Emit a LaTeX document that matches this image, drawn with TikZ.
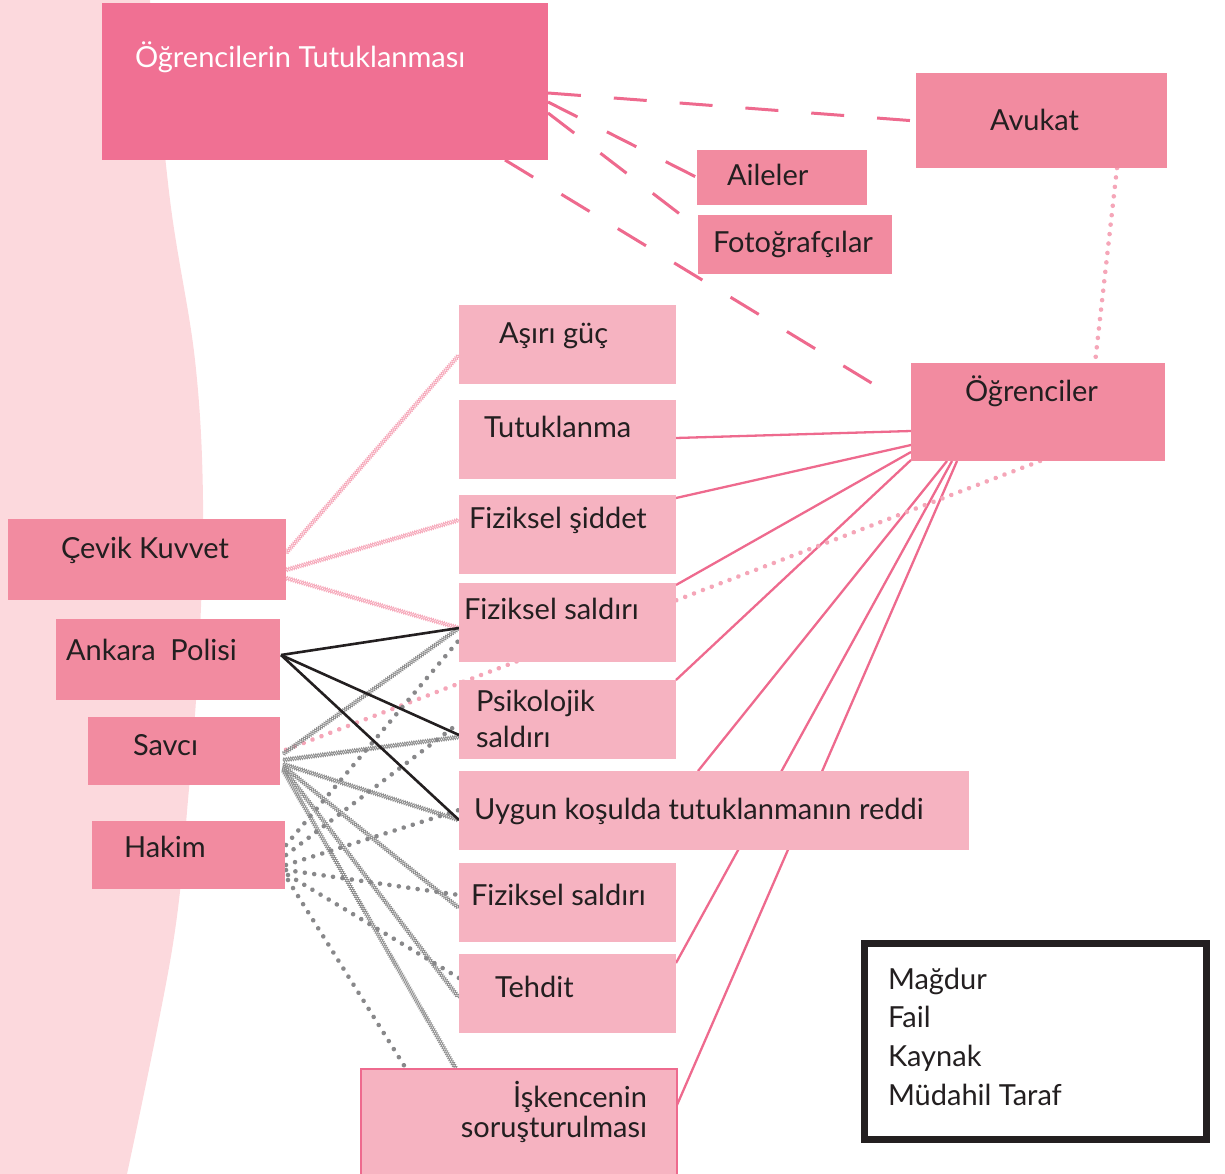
\documentclass[tikz,border=0pt]{standalone}
\usepackage{fontspec}
\setmainfont{Lato}
\usetikzlibrary{calc,decorations.pathmorphing,decorations.markings}
\pgfdeclarelayer{back}
\pgfsetlayers{back,main}
\definecolor{bgpink}{HTML}{FCD9DD}
\definecolor{deeppink}{HTML}{F07093}
\definecolor{midpink}{HTML}{F28BA0}
\definecolor{lightpink}{HTML}{F6B3C1}
\definecolor{linepink}{HTML}{EE6A8E}
\definecolor{dotpink}{HTML}{F5A6B8}
\definecolor{zigpink}{HTML}{F6A9BB}
\definecolor{ink}{HTML}{231F20}
\definecolor{graydot}{HTML}{88888A}
\definecolor{grayzig}{HTML}{8E8E8E}
\newcommand\lblfont{\fontsize{29}{34}\selectfont}
\begin{document}
\begin{tikzpicture}[x=1pt,y=-1pt,
  box/.style={draw=none,inner sep=0pt,outer sep=0pt,anchor=north west},
  deepbox/.style={box,fill=deeppink},
  midbox/.style={box,fill=midpink},
  lightbox/.style={box,fill=lightpink},
  lbl/.style={inner sep=0pt,outer sep=0pt,anchor=base west,text=ink,font=\lblfont},
  rlbl/.style={lbl,anchor=base east},
  dashlink/.style={draw=linepink,line width=3pt,dash pattern=on 33pt off 33pt},
  solidlink/.style={draw=linepink,line width=2.3pt},
  blacklink/.style={draw=ink,line width=2.6pt},
  dotlink/.style={draw=none,postaction={decorate,decoration={markings,
      mark=between positions 0 and 1 step 9.5pt with {\fill[#1] (0pt,0pt) circle[radius=2.3pt];}}}},
  ziglink/.style={draw=none,
    postaction={draw=#1,line width=0.8pt,decorate,decoration={zigzag,segment length=4.6pt,amplitude=2pt}},
    postaction={draw=#1,line width=0.8pt,decorate,decoration={zigzag,segment length=4.6pt,amplitude=2pt,mirror}}},
]
\useasboundingbox (0,0) rectangle (1225,1174);
\clip (0,0) rectangle (1225,1174);

% boxes
\node[deepbox,minimum width=446pt,minimum height=157pt] (title) at (102,3) {};
\node[midbox,minimum width=251pt,minimum height=95pt] (avukat) at (916,73) {};
\node[midbox,minimum width=170pt,minimum height=55pt] (aileler) at (697,150) {};
\node[midbox,minimum width=194pt,minimum height=59pt] (foto) at (698,215) {};
\node[midbox,minimum width=254pt,minimum height=98pt] (ogr) at (911,363) {};
\node[lightbox,minimum width=217pt,minimum height=79pt] (asiri) at (459,305) {};
\node[lightbox,minimum width=217pt,minimum height=79pt] (tutuk) at (459,400) {};
\node[lightbox,minimum width=217pt,minimum height=79pt] (siddet) at (459,495) {};
\node[lightbox,minimum width=217pt,minimum height=79pt] (saldiri) at (459,583) {};
\node[lightbox,minimum width=217pt,minimum height=79pt] (psiko) at (459,680) {};
\node[lightbox,minimum width=510pt,minimum height=79pt] (uygun) at (459,771) {};
\node[lightbox,minimum width=217pt,minimum height=79pt] (saldiri2) at (459,863) {};
\node[lightbox,minimum width=217pt,minimum height=79pt] (tehdit) at (459,954) {};
\node[lightbox,draw=linepink,line width=2pt,minimum width=316pt,minimum height=112pt] (iskence) at (361,1069) {};
\node[midbox,minimum width=278pt,minimum height=81pt] (cevik) at (8,519) {};
\node[midbox,minimum width=224pt,minimum height=81pt] (ankara) at (56,619) {};
\node[midbox,minimum width=192pt,minimum height=68pt] (savci) at (88,717) {};
\node[midbox,minimum width=193pt,minimum height=68pt] (hakim) at (92,821) {};
\node[box,draw=ink,line width=7pt,fill=white,minimum width=342pt,minimum height=196pt] (legend) at (864.5,943.5) {};

% texts
\node[lbl,text=white] (ttitle) at (135,68) {Öğrencilerin Tutuklanması};
\node[lbl] (tavukat) at (990,131) {Avukat};
\node[lbl] (taileler) at (727,186) {Aileler};
\node[lbl] (tfoto) at (713,253) {Fotoğrafçılar};
\node[lbl] (togr) at (965,401) {Öğrenciler};
\node[lbl] (tasiri) at (499,343) {Aşırı güç};
\node[lbl] (ttutuk) at (484,437) {Tutuklanma};
\node[lbl] (tsiddet) at (469,528) {Fiziksel şiddet};
\node[lbl] (tsaldiri) at (464,619) {Fiziksel saldırı};
\node[lbl] (tpsiko1) at (476,711) {Psikolojik};
\node[lbl] (tpsiko2) at (476,747) {saldırı};
\node[lbl] (tuygun) at (474,819) {Uygun koşulda tutuklanmanın reddi};
\node[lbl] (tsaldiri2) at (471,905) {Fiziksel saldırı};
\node[lbl] (ttehdit) at (495,997) {Tehdit};
\node[rlbl] (tisk1) at (647,1107) {İşkencenin};
\node[rlbl] (tisk2) at (647,1137) {soruşturulması};
\node[lbl] (tcevik) at (61,558) {Çevik Kuvvet};
\node[lbl] (tankara) at (66,660) {Ankara\ \ Polisi};
\node[lbl] (tsavci) at (133,755) {Savcı};
\node[lbl] (thakim) at (124,857) {Hakim};
\node[lbl] (lg1) at (888,989) {Mağdur};
\node[lbl] (lg2) at (888,1027) {Fail};
\node[lbl] (lg3) at (888,1066) {Kaynak};
\node[lbl] (lg4) at (888,1105) {Müdahil Taraf};

\begin{pgfonlayer}{back}
\fill[bgpink] (0,0) -- plot[smooth,tension=0.6] coordinates {(150,0) (170,200) (195,360) (203,500) (199,650) (188,800) (172,950) (127,1174)} -- (0,1174) -- cycle;

% dashed from title
\draw[dashlink] ($(title.north east)+(0,90)$) -- ($(avukat.north west)+(0,48)$);
\draw[dashlink] ($(title.north east)+(0,99)$) -- (aileler.west);
\draw[dashlink] ($(title.north east)+(0,110)$) -- ($(foto.north west)+(0,13)$);
\draw[dashlink,shorten >=22pt] ($(title.south east)+(-43,0)$) -- ($(ogr.north west)+(0,44)$);

% dotted avukat - ogrenciler
\draw[dotlink=dotpink] ($(avukat.south west)+(201,0)$) -- ($(ogr.north west)+(184,0)$);

% solid pink from ogrenciler
\draw[solidlink] ($(ogr.north west)+(0,68)$) -- ($(tutuk.north east)+(0,38)$);
\draw[solidlink] ($(ogr.north west)+(0,82)$) -- ($(siddet.north east)+(0,3)$);
\draw[solidlink] ($(ogr.north west)+(0,89)$) -- ($(saldiri.north east)+(0,2)$);
\draw[solidlink] ($(ogr.south west)+(0,-1)$) -- (psiko.north east);
\draw[solidlink] ($(ogr.south west)+(36,0)$) -- ($(uygun.north west)+(239,0)$);
\draw[solidlink] ($(ogr.south west)+(41,0)$) -- ($(tehdit.north east)+(0,9)$);
\draw[solidlink] ($(ogr.south west)+(46,0)$) -- ($(iskence.north east)+(0,36)$);

% pink dotted ogrenciler - savci
\draw[dotlink=dotpink] ($(ogr.south west)+(129,0)$) -- ($(savci.north east)+(0,35)$);

% pink zigzag from cevik kuvvet
\draw[ziglink=zigpink] ($(cevik.north east)+(0,34)$) -- ($(asiri.north west)+(0,50)$);
\draw[ziglink=zigpink] ($(cevik.north east)+(0,51)$) -- ($(siddet.north west)+(0,25)$);
\draw[ziglink=zigpink] ($(cevik.north east)+(0,59)$) -- ($(saldiri.north west)+(0,45)$);

% gray zigzag from savci
\draw[ziglink=grayzig] ($(savci.north east)+(3,37)$) -- ($(saldiri.north west)+(0,45)$);
\draw[ziglink=grayzig] ($(savci.north east)+(3,43)$) -- ($(psiko.north west)+(0,57)$);
\draw[ziglink=grayzig] ($(savci.north east)+(3,47)$) -- ($(uygun.north west)+(0,49)$);
\draw[ziglink=grayzig] ($(savci.north east)+(3,49)$) -- ($(saldiri2.north west)+(0,45)$);
\draw[ziglink=grayzig] ($(savci.north east)+(3,51)$) -- ($(tehdit.north west)+(0,44)$);
\draw[ziglink=grayzig] ($(savci.north east)+(3,53)$) -- ($(iskence.north west)+(95,0)$);

% gray dotted from hakim
\draw[dotlink=graydot] ($(hakim.north east)+(1,24)$) -- ($(saldiri.north west)+(0,57)$);
\draw[dotlink=graydot] ($(hakim.north east)+(1,34)$) -- ($(psiko.north west)+(0,43)$);
\draw[dotlink=graydot] ($(hakim.north east)+(1,44)$) -- ($(uygun.north west)+(0,39)$);
\draw[dotlink=graydot] ($(hakim.north east)+(1,49)$) -- ($(saldiri2.north west)+(0,32)$);
\draw[dotlink=graydot] ($(hakim.north east)+(3,54)$) -- ($(tehdit.north west)+(0,24)$);
\draw[dotlink=graydot] ($(hakim.north east)+(3,59)$) -- ($(iskence.north west)+(44,-2)$);

% black from ankara
\draw[blacklink] ($(ankara.north east)+(1,36)$) -- ($(saldiri.north west)+(0,45)$);
\draw[blacklink] ($(ankara.north east)+(1,36)$) -- ($(psiko.north west)+(0,55)$);
\draw[blacklink] ($(ankara.north east)+(1,36)$) -- ($(uygun.north west)+(0,49)$);
\end{pgfonlayer}
\end{tikzpicture}
\end{document}
